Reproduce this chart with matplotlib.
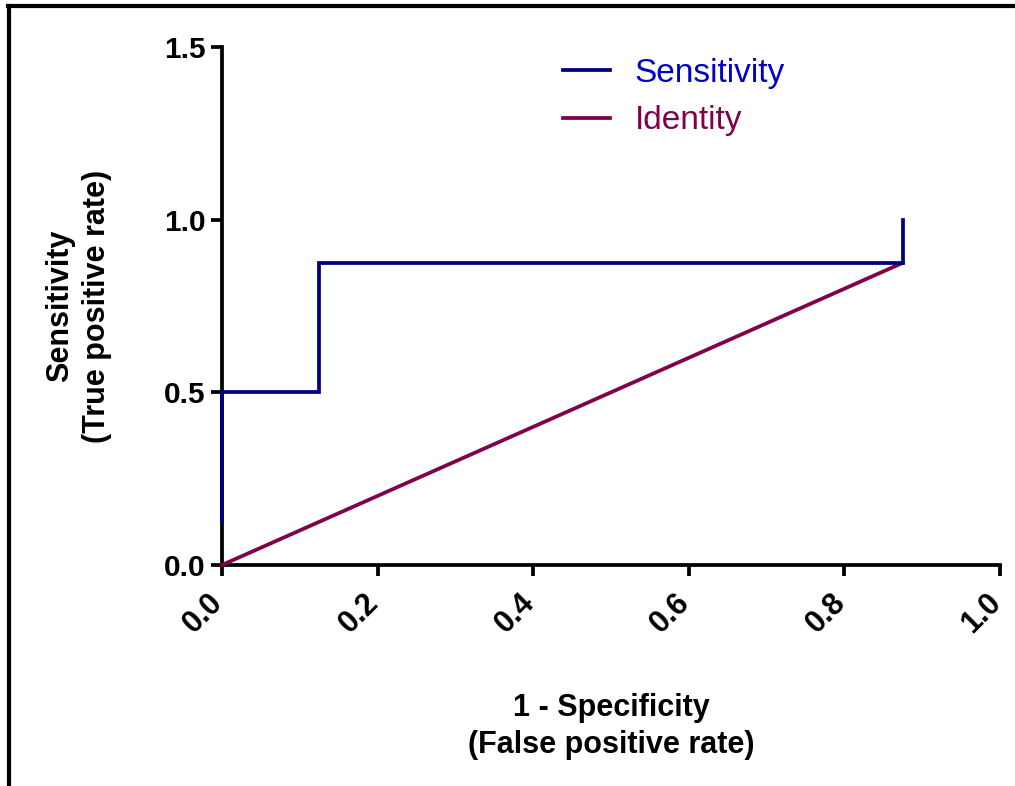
import matplotlib.pyplot as plt
from matplotlib.lines import Line2D
from matplotlib.transforms import ScaledTranslation

plt.rcParams['font.family'] = ['Liberation Sans', 'DejaVu Sans']

# ROC curve data
fpr = [0.0, 0.0, 0.125, 0.125, 0.875, 0.875]
sens = [0.125, 0.5, 0.5, 0.875, 0.875, 1.0]
ident_x = [0.0, 0.875]
ident_y = [0.0, 0.875]

xticks = [0.0, 0.2, 0.4, 0.6, 0.8, 1.0]
yticks = [0.0, 0.5, 1.0, 1.5]

navy = '#000080'
maroon = '#80004a'

fig = plt.figure(figsize=(10.15, 7.86), dpi=100)
ax = fig.add_axes([0.2187, 0.2812, 0.9852 - 0.2187, 0.9402 - 0.2812])

ax.plot(fpr, sens, color=navy, lw=2.7, label='Sensitivity', clip_on=False, zorder=5,
        solid_joinstyle='miter')
ax.plot(ident_x, ident_y, color=maroon, lw=2.7, label='Identity', clip_on=False, zorder=4)

ax.set_xlim(0, 1.0)
ax.set_ylim(0, 1.5)
ax.set_xticks(xticks)
ax.set_yticks(yticks)
ax.set_xticklabels(['%.1f' % v for v in xticks], rotation=45, ha='right', va='top',
                   rotation_mode='anchor', fontsize=22, fontweight='bold')
ax.set_yticklabels(['%.1f' % v for v in yticks], fontsize=21.5, fontweight='bold')
ax.tick_params(axis='both', direction='out', length=8, width=2.7, pad=4)
ax.tick_params(axis='x', pad=8)
# nudge rotated labels so they end at their tick
for lab in ax.get_xticklabels():
    lab.set_transform(lab.get_transform() + ScaledTranslation(-10 / 72, 0, fig.dpi_scale_trans))

for s in ['top', 'right']:
    ax.spines[s].set_visible(False)
for s in ['left', 'bottom']:
    ax.spines[s].set_linewidth(2.7)

ax.set_xlabel('1 - Specificity\n(False positive rate)', fontsize=22, fontweight='bold',
              labelpad=39, linespacing=1.3)
ax.set_ylabel('Sensitivity\n(True positive rate)', fontsize=22, fontweight='bold',
              labelpad=37, linespacing=1.3)

leg = ax.legend(loc='upper left', bbox_to_anchor=(0.525, 0.965), bbox_transform=fig.transFigure,
                frameon=False, fontsize=24, handlelength=1.4, handletextpad=0.75,
                labelspacing=0.5, labelcolor=['#0000c8', maroon])

# partial frame around the figure
fig.add_artist(Line2D([0.008, 1.0], [0.992, 0.992], color='black', lw=3, transform=fig.transFigure))
fig.add_artist(Line2D([0.0085, 0.0085], [0.0, 0.992], color='black', lw=3, transform=fig.transFigure))

fig.savefig('out.png', dpi=100)
